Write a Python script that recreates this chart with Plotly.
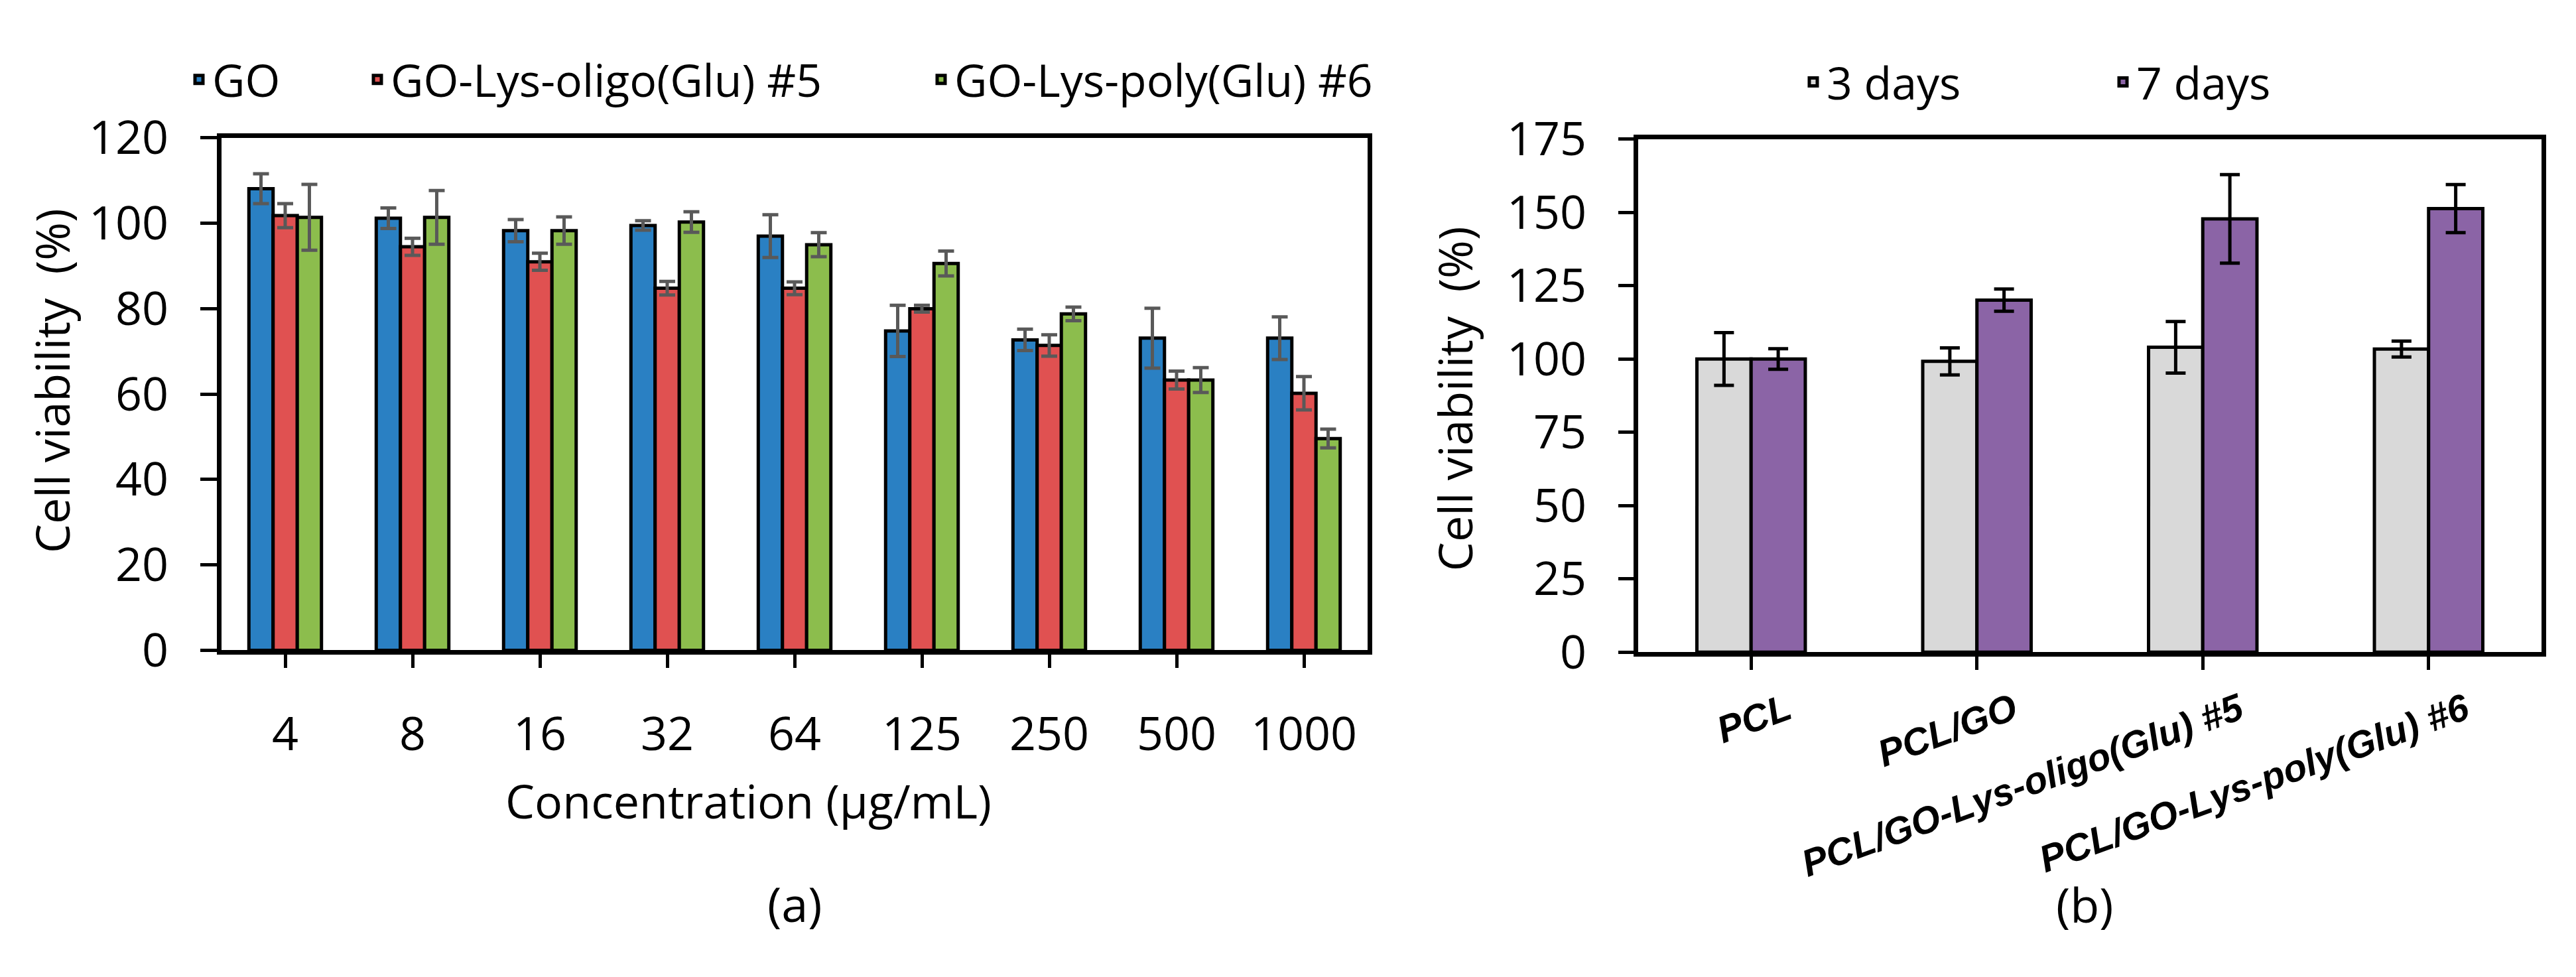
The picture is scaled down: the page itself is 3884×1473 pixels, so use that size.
import plotly.graph_objects as go

# ---------------- data: panel (a) ----------------
conc = ["4", "8", "16", "32", "64", "125", "250", "500", "1000"]
go_vals = [108.1, 101.2, 98.3, 99.5, 97.0, 74.8, 72.7, 73.1, 73.1]
go_err = [3.5, 2.4, 2.6, 1.1, 5.0, 6.0, 2.5, 7.0, 5.0]
oligo_vals = [101.8, 94.5, 91.0, 84.8, 84.8, 80.0, 71.4, 63.3, 60.2]
oligo_err = [2.8, 2.0, 2.0, 1.6, 1.5, 0.8, 2.5, 2.1, 3.9]
poly_vals = [101.4, 101.4, 98.3, 100.3, 95.0, 90.6, 78.8, 63.3, 49.6]
poly_err = [7.7, 6.3, 3.2, 2.4, 2.8, 2.9, 1.6, 2.9, 2.2]
series_a = ["GO", "GO-Lys-oligo(Glu) #5", "GO-Lys-poly(Glu) #6"]

# ---------------- data: panel (b) ----------------
samples = ["PCL", "PCL/GO", "PCL/GO-Lys-oligo(Glu) #5", "PCL/GO-Lys-poly(Glu) #6"]
d3_vals = [100.0, 99.2, 104.0, 103.4]
d3_err = [9.0, 4.6, 8.8, 2.7]
d7_vals = [100.0, 120.1, 147.8, 151.3]
d7_err = [3.5, 3.8, 15.1, 8.2]
series_b = ["3 days", "7 days"]

W, H = 3884, 1473
FONT = "Open Sans"
FS = 70

fig = go.Figure()

cols_a = ["#2A80C3", "#E05151", "#8CBD4D"]
vals_a = [go_vals, oligo_vals, poly_vals]
errs_a = [go_err, oligo_err, poly_err]
offs_a = [-0.285, -0.095, 0.095]
legs_a = ["legend", "legend2", "legend3"]
for name, c, v, e, o, lg in zip(series_a, cols_a, vals_a, errs_a, offs_a, legs_a):
    fig.add_trace(go.Bar(
        x=conc, y=v, name=name, width=0.19, offset=o, showlegend=True,
        marker=dict(color=c, line=dict(color="black", width=5)),
        error_y=dict(type="data", array=e, visible=True, color="#595959",
                     thickness=5, width=12),
        xaxis="x", yaxis="y", legend=lg,
    ))

cols_b = ["#D9D9D9", "#8B64A6"]
vals_b = [d3_vals, d7_vals]
errs_b = [d3_err, d7_err]
offs_b = [-0.24, 0.0]
legs_b = ["legend4", "legend5"]
for name, c, v, e, o, lg in zip(series_b, cols_b, vals_b, errs_b, offs_b, legs_b):
    fig.add_trace(go.Bar(
        x=samples, y=v, name=name, width=0.24, offset=o, showlegend=True,
        marker=dict(color=c, line=dict(color="black", width=5)),
        error_y=dict(type="data", array=e, visible=True, color="black",
                     thickness=5, width=15),
        xaxis="x2", yaxis="y2", legend=lg,
    ))

axis_common = dict(showline=True, linecolor="black", linewidth=7, mirror=True,
                   showgrid=False, zeroline=False, ticks="outside",
                   tickcolor="black", tickwidth=5)

def leg(x, y):
    return dict(x=x, y=y, xanchor="left", yanchor="middle", orientation="h",
                bgcolor="rgba(0,0,0,0)", font=dict(family=FONT, size=68, color="black"),
                itemwidth=30)

def ann(text, x, y, size=FS, angle=0):
    return dict(text=text, x=x / W, y=1 - y / H, xref="paper", yref="paper",
                xanchor="center", yanchor="middle", textangle=angle,
                showarrow=False, font=dict(family=FONT, size=size, color="black"))

fig.update_layout(
    width=W, height=H, margin=dict(l=0, r=0, t=0, b=0),
    paper_bgcolor="white", plot_bgcolor="white",
    barmode="overlay", showlegend=True,
    font=dict(family=FONT, size=FS, color="black"),
    xaxis=dict(domain=[334 / W, 2062 / W], anchor="y", type="category",
               range=[-0.5, 8.5], ticklen=20, ticklabelstandoff=40,
               tickfont=dict(family=FONT, size=FS, color="black"), **axis_common),
    yaxis=dict(domain=[1 - 995 / H, 1 - 168 / H], anchor="x", range=[0, 120],
               dtick=20, ticklen=25, ticklabelstandoff=34,
               tickfont=dict(family=FONT, size=FS, color="black"), **axis_common),
    xaxis2=dict(domain=[2470 / W, 3832 / W], anchor="y2", type="category",
                range=[-0.5, 3.5], ticklen=20, tickangle=-20, ticklabelstandoff=5,
                ticklabelshift=55,
                tickfont=dict(family="Liberation Sans", size=57, color="black",
                              weight="bold", style="italic"), **axis_common),
    yaxis2=dict(domain=[1 - 998 / H, 1 - 170 / H], anchor="x2", range=[0, 175],
                dtick=25, ticklen=23, ticklabelstandoff=34,
                tickfont=dict(family=FONT, size=FS, color="black"), **axis_common),
    legend=leg((320 - 40) / W, 1 - 74 / H),
    legend2=leg((589 - 40) / W, 1 - 74 / H),
    legend3=leg((1439 - 40) / W, 1 - 74 / H),
    legend4=leg((2754 - 40) / W, 1 - 78 / H),
    legend5=leg((3221 - 40) / W, 1 - 78 / H),
    annotations=[
        ann("Cell viability\u00a0 (%)", 78, 560, angle=-90),
        ann("Cell viability\u00a0 (%)", 2193, 589, angle=-90),
        ann("Concentration (\u00b5g/mL)", 1128, 1237),
        ann("(a)", 1198, 1403, size=72),
        ann("(b)", 3143, 1404, size=72),
    ],
)

fig.write_html("out.html")
